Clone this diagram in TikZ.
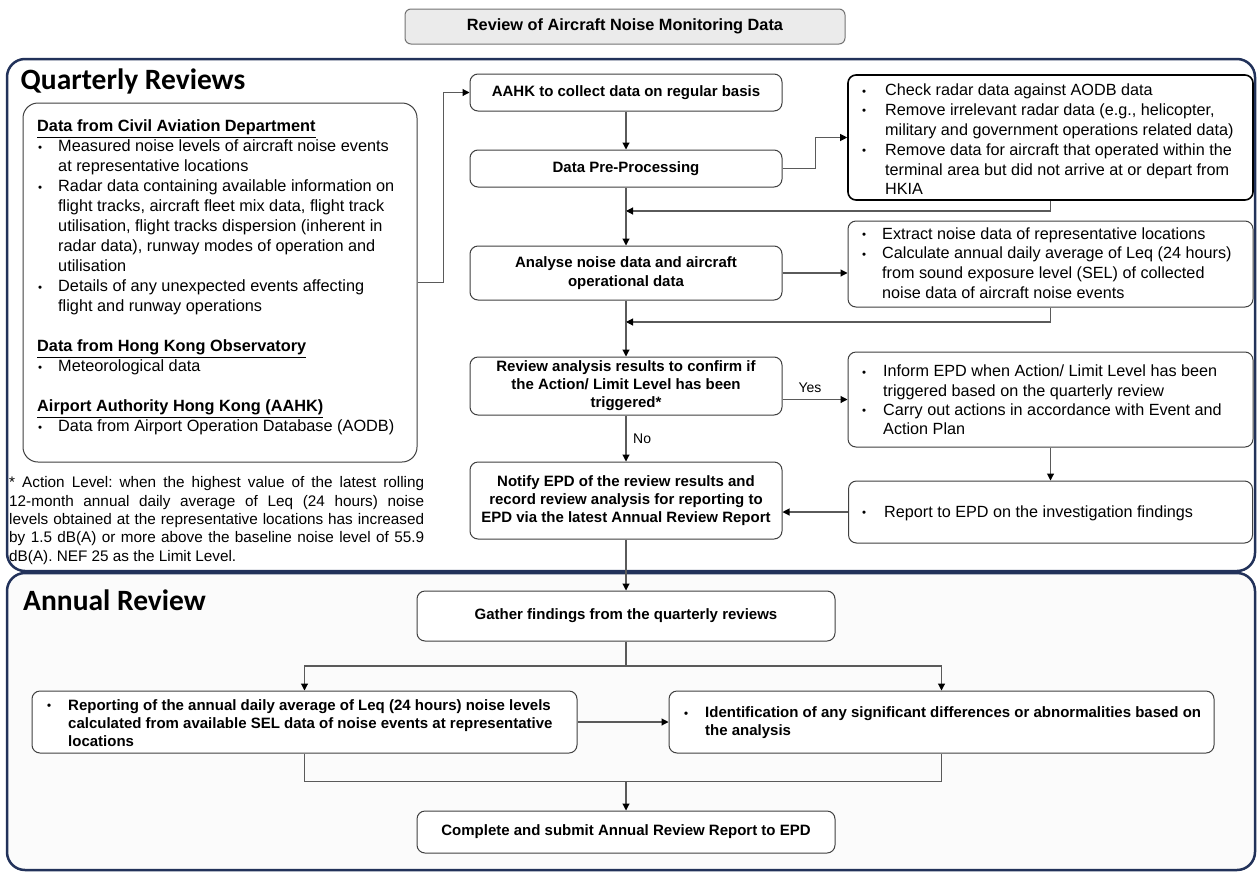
\documentclass[tikz,border=0pt]{standalone}
\usepackage{fontspec}
\setmainfont{Liberation Sans}
\newfontfamily\calfont{Carlito}
\usetikzlibrary{arrows.meta,calc}
\frenchspacing
\definecolor{navy}{HTML}{22325A}
\definecolor{boxline}{HTML}{404040}
\definecolor{conn}{HTML}{5A5A5A}
\definecolor{titlefill}{HTML}{EBEBEB}
\definecolor{annfill}{HTML}{FBFBFB}
\newcommand\bl[1][22pt]{\makebox[#1][l]{\hspace{1pt}\raisebox{0.8pt}{\fontsize{11.5}{11.5}\selectfont•}}}
\newcommand\ind[1][22pt]{\hspace*{#1}}
\begin{document}
\begin{tikzpicture}[x=1pt,y=-1pt,
  panel/.style={draw=navy, line width=2.5pt, rounded corners=18pt, inner sep=0pt},
  box/.style={draw=boxline, line width=1pt, rounded corners=8pt, fill=white, inner sep=0pt, align=center, font=\fontsize{15}{18}\selectfont\bfseries},
  txt/.style={inner sep=0pt, anchor=west, align=left, font=\fontsize{16.2}{19.8}\selectfont},
  btxt/.style={inner sep=0pt, anchor=west, align=left, font=\fontsize{15}{18}\selectfont\bfseries},
  ln/.style={draw=conn, line width=1.1pt},
  arr/.style={ln, -{Triangle[length=7pt,width=7pt,color=black]}},
  lbl/.style={inner sep=0pt, font=\fontsize{14}{16}\selectfont},
  ptitle/.style={inner sep=0pt, anchor=base west, font=\calfont\bfseries\fontsize{29.5}{32}\selectfont}
]
\useasboundingbox (0,0) rectangle (1258,873);
% panels
\node[panel, fill=white, minimum width=1248pt, minimum height=512pt] (qpanel) at (631,315) {};
\node[panel, fill=annfill, minimum width=1248pt, minimum height=297pt] (apanel) at (631,721.5) {};
% title
\node[box, fill=titlefill, draw=black!55, rounded corners=6pt, minimum width=440pt, minimum height=35pt, font=\fontsize{16.3}{19}\selectfont\bfseries] (title) at (625,26.5) {Review of Aircraft Noise Monitoring Data};
\node[ptitle] (qtitle) at (20.5,89) {Quarterly Reviews};
% source data box
\node[box, rounded corners=15pt, minimum width=394pt, minimum height=359pt] (src) at (220,282.5) {};
\node[txt, font=\fontsize{16.3}{20}\selectfont] (srctxt) at (37,277.7) {\textbf{\underline{Data from Civil Aviation Department}}\\
\bl[21pt]Measured noise levels of aircraft noise events\\
\ind[21pt]at representative locations\\
\bl[21pt]Radar data containing available information on\\
\ind[21pt]flight tracks, aircraft fleet mix data, flight track\\
\ind[21pt]utilisation, flight tracks dispersion (inherent in\\
\ind[21pt]radar data), runway modes of operation and\\
\ind[21pt]utilisation\\
\bl[21pt]Details of any unexpected events affecting\\
\ind[21pt]flight and runway operations\\[20pt]
\textbf{\underline{Data from Hong Kong Observatory}}\\
\bl[21pt]Meteorological data\\[20pt]
\textbf{\underline{Airport Authority Hong Kong (AAHK)}}\\
\bl[21pt]Data from Airport Operation Database (AODB)};
% footnote
\node[inner sep=0pt, anchor=west, text width=415pt, align=justify, font=\fontsize{15.3}{18.3}\selectfont] (foot) at (9,520.5) {\frenchspacing\hyphenpenalty=10000\exhyphenpenalty=10000\tolerance=10000 * Action Level: when the highest value of the latest rolling\linebreak 12-month annual daily average of Leq (24 hours) noise\linebreak levels obtained at the representative locations has increased\linebreak by 1.5 dB(A) or more above the baseline noise level of 55.9\linebreak dB(A). NEF 25 as the Limit Level.\par};
% centre column
\node[box, minimum width=312pt, minimum height=37pt] (aahk) at (626,92.5) {AAHK to collect data on regular basis};
\node[box, minimum width=312pt, minimum height=37pt] (dpp) at (626,168.5) {Data Pre-Processing};
\node[box, minimum width=312pt, minimum height=54pt, font=\fontsize{15}{19}\selectfont\bfseries] (ana) at (626,273) {Analyse noise data and aircraft\\operational data};
\node[box, minimum width=312pt, minimum height=58pt] (rev) at (626,386) {Review analysis results to confirm if\\the Action/ Limit Level has been\\triggered*};
\node[box, minimum width=312pt, minimum height=77pt] (notify) at (626,500.5) {Notify EPD of the review results and\\record review analysis for reporting to\\EPD via the latest Annual Review Report};
% right column
\node[box, draw=black, line width=1.6pt, minimum width=405pt, minimum height=125pt] (chk) at (1050.5,137.5) {};
\node[txt] (chktxt) at (861,139.5) {\bl[24pt]Check radar data against AODB data\\
\bl[24pt]Remove irrelevant radar data (e.g., helicopter,\\
\ind[24pt]military and government operations related data)\\
\bl[24pt]Remove data for aircraft that operated within the\\
\ind[24pt]terminal area but did not arrive at or depart from\\
\ind[24pt]HKIA};
\node[box, minimum width=405pt, minimum height=86pt] (ext) at (1050.5,264) {};
\node[txt] (exttxt) at (861,263) {\bl[21pt]Extract noise data of representative locations\\
\bl[21pt]Calculate annual daily average of Leq (24 hours)\\
\ind[21pt]from sound exposure level (SEL) of collected\\
\ind[21pt]noise data of aircraft noise events};
\node[box, minimum width=405pt, minimum height=95pt] (inf) at (1050.5,399.5) {};
\node[txt, font=\fontsize{16.2}{19.3}\selectfont] (inftxt) at (861,400) {\bl[22pt]Inform EPD when Action/ Limit Level has been\\
\ind[22pt]triggered based on the quarterly review\\
\bl[22pt]Carry out actions in accordance with Event and\\
\ind[22pt]Action Plan};
\node[box, minimum width=404pt, minimum height=62pt] (rep) at (1050.5,512) {};
\node[txt] (reptxt) at (861,513.6) {\bl[23pt]Report to EPD on the investigation findings};
\node[lbl] (yes) at (810,388) {Yes};
\node[lbl, anchor=west] (no) at (633,439) {No};
% annual review
\node[ptitle] (atitle) at (23,610) {Annual Review};
\node[box, minimum width=418pt, minimum height=50pt] (gather) at (626,616) {Gather findings from the quarterly reviews};
\node[box, minimum width=545pt, minimum height=62pt] (lrep) at (304.5,722) {};
\node[btxt] (lreptxt) at (46,723) {\bl[22pt]Reporting of the annual daily average of Leq (24 hours) noise levels\\
\ind[22pt]calculated from available SEL data of noise events at representative\\
\ind[22pt]locations};
\node[box, minimum width=545pt, minimum height=62pt] (idf) at (941.5,722) {};
\node[btxt] (idftxt) at (683,723) {\bl[22pt]Identification of any significant differences or abnormalities based on\\
\ind[22pt]the analysis};
\node[box, minimum width=418pt, minimum height=42pt] (compl) at (626,832) {Complete and submit Annual Review Report to EPD};
% connectors
\coordinate (j1) at (626,211);
\coordinate (j2) at (626,322);
\coordinate (b1) at (626,666);
\coordinate (b2) at (626,781);
\draw[arr] (src.east) -- ++(26,0) |- (aahk.west);
\draw[arr] (aahk) -- (dpp);
\draw[arr] (dpp.east) -- ++(33,0) |- (chk.west);
\draw[ln] (dpp) -- (j1);
\draw[arr] (chk.south) |- (j1);
\draw[arr] (j1) -- (ana);
\draw[arr] (ana.east) -- (ana.east -| ext.west);
\draw[ln] (ana) -- (j2);
\draw[arr] (ext.south) |- (j2);
\draw[arr] (j2) -- (rev);
\draw[arr] (rev.east |- inf.west) -- (inf.west);
\draw[arr] (rev) -- (notify);
\draw[arr] (inf) -- (rep);
\draw[arr] (rep.west) -- (rep.west -| notify.east);
\draw[arr] (notify) -- (gather);
\draw[ln] (gather.south) -- (b1);
\draw[arr] (b1) -| (lrep.north);
\draw[arr] (b1) -| (idf.north);
\draw[arr] (lrep.east) -- (idf.west);
\draw[ln] (lrep.south) -- ++(0,28) -| (idf.south);
\draw[arr] (b2) -- (compl);
\end{tikzpicture}
\end{document}
